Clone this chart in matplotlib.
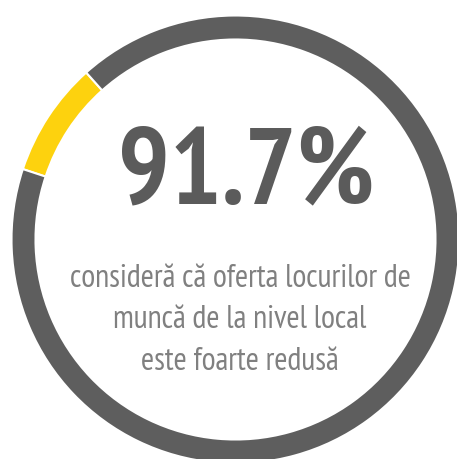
import matplotlib.pyplot as plt

shares = [8.3, 91.7]
colors = ["#fdd20e", "#5e5e5e"]
big_label = "91.7%"
caption = ["consideră că oferta locurilor de",
           "muncă de la nivel local",
           "este foarte redusă"]

font = ["PT Sans Narrow", "DejaVu Sans"]

fig = plt.figure(figsize=(4.57, 4.59), dpi=100)
ax = fig.add_axes([0, 0, 1, 1])

# ring: yellow slice sits at upper left, gray goes round the rest
ax.pie(shares, colors=colors, startangle=131.8, counterclock=True,
       center=(235.5, 219.5), radius=224,
       wedgeprops=dict(width=24, edgecolor="white", linewidth=1.5))

ax.text(246, 459 - 176, big_label, ha="center", va="center",
        fontsize=78, fontweight="bold", color="#5b5b5b", family=font)

for i, line in enumerate(caption):
    ax.text(240, 459 - 279 - i * 41.5, line, ha="center", va="center",
            fontsize=23, color="#808080", family=font)

ax.set_xlim(0, 457)
ax.set_ylim(0, 459)
ax.set_aspect("equal")
ax.axis("off")
fig.savefig("out.png", dpi=100)
